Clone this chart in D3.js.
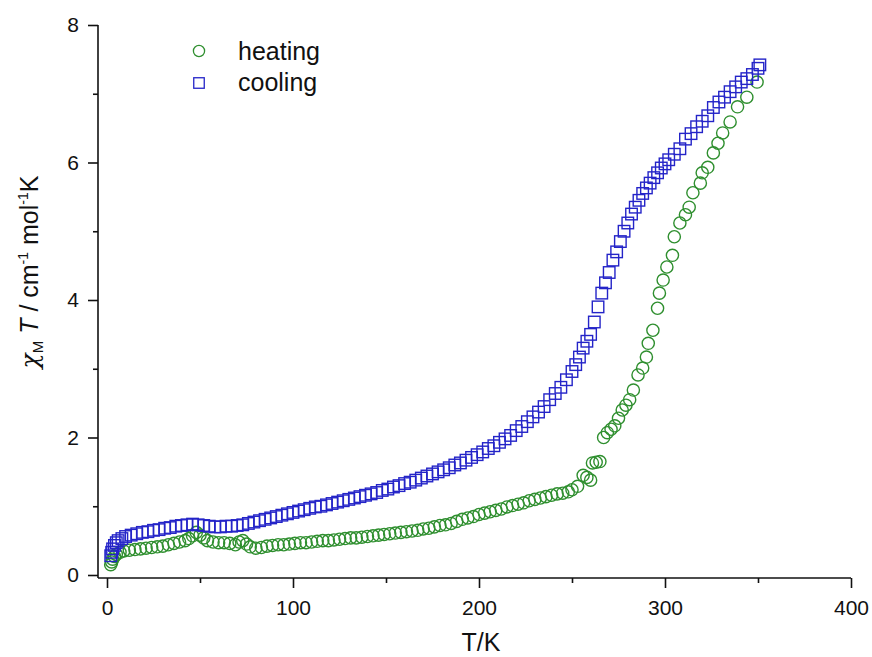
<!DOCTYPE html>
<html>
<head>
<meta charset="utf-8">
<script src="https://cdn.jsdelivr.net/npm/d3@7"></script>
<style>
  body { margin: 0; background: #fff; }
  svg text { font-family: "Liberation Sans", Arial, sans-serif; fill: #111; }
</style>
</head>
<body>
<svg id="chart" width="872" height="657"></svg>
<script>
// heating run (open circles)
var heatT = [2, 2.5, 3, 4, 5, 7, 9, 12, 15, 18, 21, 24, 27, 30, 33, 36, 39, 42, 44, 46,
    48, 50, 52, 54, 57, 60, 63, 66, 69, 71, 73, 75, 77, 80, 83, 86, 89, 92, 95, 98,
    101, 104, 107, 110, 113, 116, 119, 122, 125, 128, 131, 134, 137, 140, 143, 146, 149, 152, 155, 158,
    161, 164, 167, 170, 173, 176, 179, 182, 185, 188, 191, 194, 197, 200, 203, 206, 209, 212, 215, 218,
    221, 224, 227, 230, 233, 236, 239, 242, 245, 248, 250, 253, 256, 258, 260, 261, 263, 265, 267, 269,
    271, 273, 275, 277, 279, 281, 283, 285.5, 288, 290, 291, 293.5, 296, 297, 299, 301, 304, 305, 308, 311,
    313, 315, 319, 320, 323, 326, 328.5, 331, 335, 339, 344, 349.5];
var heatChi = [0.15, 0.19, 0.23, 0.27, 0.3, 0.33, 0.35, 0.36, 0.37, 0.38, 0.39, 0.4, 0.41, 0.42, 0.44, 0.46, 0.48, 0.5, 0.53, 0.57,
    0.62, 0.58, 0.54, 0.5, 0.48, 0.47, 0.47, 0.46, 0.44, 0.48, 0.5, 0.45, 0.41, 0.39, 0.4, 0.42, 0.43, 0.44, 0.44, 0.45,
    0.46, 0.47, 0.47, 0.48, 0.49, 0.5, 0.5, 0.51, 0.52, 0.53, 0.54, 0.54, 0.55, 0.56, 0.57, 0.58, 0.59, 0.6, 0.61, 0.62,
    0.63, 0.64, 0.65, 0.67, 0.68, 0.7, 0.72, 0.73, 0.75, 0.78, 0.81, 0.83, 0.85, 0.88, 0.9, 0.92, 0.94, 0.96, 0.99, 1.01,
    1.03, 1.05, 1.08, 1.1, 1.12, 1.14, 1.16, 1.18, 1.19, 1.21, 1.24, 1.29, 1.45, 1.42, 1.38, 1.63, 1.64, 1.65, 2.0, 2.07,
    2.12, 2.17, 2.28, 2.4, 2.47, 2.55, 2.69, 2.91, 3.01, 3.17, 3.37, 3.56, 3.88, 4.1, 4.29, 4.48, 4.65, 4.92, 5.12, 5.24,
    5.35, 5.56, 5.7, 5.85, 5.93, 6.14, 6.28, 6.43, 6.59, 6.81, 6.95, 7.17];

// cooling run (open squares)
var coolT = [2, 2.5, 3, 4, 5, 6, 8, 10, 13, 16, 19, 22, 25, 28, 31, 34, 37, 40, 43, 46,
    49, 52, 55, 58, 61, 64, 67, 70, 73, 76, 79, 82, 85, 88, 91, 94, 97, 100, 103, 106,
    109, 112, 115, 118, 121, 124, 127, 130, 133, 136, 139, 142, 145, 148, 151, 154, 157, 160, 163, 166,
    169, 172, 175, 178, 181, 184, 187, 190, 193, 196, 199, 202, 205, 208, 211, 214, 217, 220, 223, 226,
    229, 232, 235, 238, 241, 244, 247, 250, 252, 254, 256, 258, 260, 262, 264, 266, 268, 270, 272, 274,
    276, 278, 280, 282, 284, 286, 288, 290, 292, 294, 296, 298, 300, 302, 305, 308, 311, 314, 317, 320,
    323, 326, 329, 332, 335, 338, 341, 344, 347, 350, 351];
var coolChi = [0.28, 0.33, 0.38, 0.43, 0.47, 0.5, 0.53, 0.56, 0.58, 0.6, 0.62, 0.63, 0.65, 0.66, 0.68, 0.69, 0.71, 0.72, 0.73, 0.74,
    0.73, 0.72, 0.71, 0.7, 0.7, 0.71, 0.71, 0.72, 0.73, 0.75, 0.77, 0.79, 0.81, 0.83, 0.85, 0.87, 0.89, 0.91, 0.93, 0.95,
    0.97, 0.99, 1.0, 1.02, 1.04, 1.06, 1.08, 1.1, 1.12, 1.14, 1.16, 1.18, 1.2, 1.23, 1.25, 1.28, 1.3, 1.33, 1.35, 1.38,
    1.41, 1.44, 1.47, 1.5, 1.53, 1.56, 1.6, 1.63, 1.67, 1.71, 1.75, 1.79, 1.84, 1.88, 1.93, 1.98, 2.03, 2.1, 2.16, 2.23,
    2.3, 2.37, 2.45, 2.55, 2.64, 2.73, 2.84, 2.96, 3.06, 3.17, 3.3, 3.4, 3.5, 3.68, 3.9, 4.1, 4.25, 4.4, 4.58, 4.7,
    4.85, 5.0, 5.12, 5.25, 5.35, 5.45, 5.55, 5.63, 5.7, 5.78, 5.85, 5.92, 5.98, 6.04, 6.12, 6.2, 6.34, 6.42, 6.52, 6.6,
    6.68, 6.8, 6.88, 6.95, 7.03, 7.1, 7.17, 7.22, 7.28, 7.37, 7.42];

var xMajor = [0, 100, 200, 300, 400];
var xMinor = [50, 150, 250, 350];
var yMajor = [0, 2, 4, 6, 8];
var yMinor = [1, 3, 5, 7];

var GREEN = '#2f8f2f';
var BLUE = '#2424c8';

var svg = d3.select('#chart');

var x = d3.scaleLinear().domain([0, 400]).range([107, 851]);
var y = d3.scaleLinear().domain([0, 8]).range([575, 25]);

var axisX0 = 98;   // y-axis line position (offset from T = 0)
var axisY0 = 578;  // x-axis line position (offset from chi = 0)

// ---- axes ----
var gx = svg.append('g').attr('transform', 'translate(0,' + axisY0 + ')');
gx.call(d3.axisBottom(x).tickValues(xMajor).tickSize(10).tickPadding(12).tickFormat(d3.format('d')));
gx.append('g').call(d3.axisBottom(x).tickValues(xMinor).tickSize(5).tickFormat(''));
gx.selectAll('.domain').remove();
gx.append('line').attr('x1', axisX0).attr('x2', x(400)).attr('y1', 0).attr('y2', 0)
    .attr('stroke', '#111').attr('stroke-width', 1.6);

var gy = svg.append('g').attr('transform', 'translate(' + axisX0 + ',0)');
gy.call(d3.axisLeft(y).tickValues(yMajor).tickSize(10).tickPadding(9).tickFormat(d3.format('d')));
gy.append('g').call(d3.axisLeft(y).tickValues(yMinor).tickSize(5).tickFormat(''));
gy.selectAll('.domain').remove();
gy.append('line').attr('x1', 0).attr('x2', 0).attr('y1', y(8)).attr('y2', axisY0)
    .attr('stroke', '#111').attr('stroke-width', 1.6);

svg.selectAll('.tick line').attr('stroke', '#111').attr('stroke-width', 1.6);
svg.selectAll('.tick text')
    .style('font-family', '"Liberation Sans", Arial, sans-serif')
    .style('font-size', '21px').attr('fill', '#111');

// ---- axis titles ----
svg.append('text')
    .attr('x', 481).attr('y', 651)
    .attr('text-anchor', 'middle')
    .style('font-size', '25px')
    .text('T/K');

var yt = svg.append('text')
    .attr('transform', 'translate(38,272) rotate(-90)')
    .attr('text-anchor', 'middle')
    .style('font-size', '25px');
yt.append('tspan').style('font-style', 'italic').style('font-family', '"DejaVu Serif", serif').text('\u03c7');
yt.append('tspan').style('font-size', '15px').attr('dy', 5).text('M');
yt.append('tspan').attr('dy', -5).style('font-style', 'italic').text(' T');
yt.append('tspan').text(' / cm');
yt.append('tspan').style('font-size', '14px').attr('dy', -10).text('-1');
yt.append('tspan').attr('dy', 10).text('  mol');
yt.append('tspan').style('font-size', '14px').attr('dy', -10).text('-1');
yt.append('tspan').attr('dy', 10).text('K');

// ---- data ----
var heating = heatT.map(function(t, i) { return { t: t, v: heatChi[i] }; });
var cooling = coolT.map(function(t, i) { return { t: t, v: coolChi[i] }; });

var R = 6.1;
var sq = 11.5;

svg.append('g').selectAll('circle')
    .data(heating)
    .enter().append('circle')
    .attr('cx', function(d) { return x(d.t); })
    .attr('cy', function(d) { return y(d.v); })
    .attr('r', R)
    .attr('fill', 'none')
    .attr('stroke', GREEN)
    .attr('stroke-width', 1.4);

svg.append('g').selectAll('rect')
    .data(cooling)
    .enter().append('rect')
    .attr('x', function(d) { return x(d.t) - sq / 2; })
    .attr('y', function(d) { return y(d.v) - sq / 2; })
    .attr('width', sq).attr('height', sq)
    .attr('fill', 'none')
    .attr('stroke', BLUE)
    .attr('stroke-width', 1.4);

// ---- legend ----
var legend = svg.append('g');
legend.append('circle').attr('cx', 199).attr('cy', 51).attr('r', 5.6)
    .attr('fill', 'none').attr('stroke', GREEN).attr('stroke-width', 1.3);
legend.append('rect').attr('x', 199 - 5.25).attr('y', 83 - 5.25).attr('width', 10.5).attr('height', 10.5)
    .attr('fill', 'none').attr('stroke', BLUE).attr('stroke-width', 1.3);
legend.append('text').attr('x', 238).attr('y', 60).style('font-size', '25px').text('heating');
legend.append('text').attr('x', 238).attr('y', 91).style('font-size', '25px').text('cooling');
</script>
</body>
</html>
